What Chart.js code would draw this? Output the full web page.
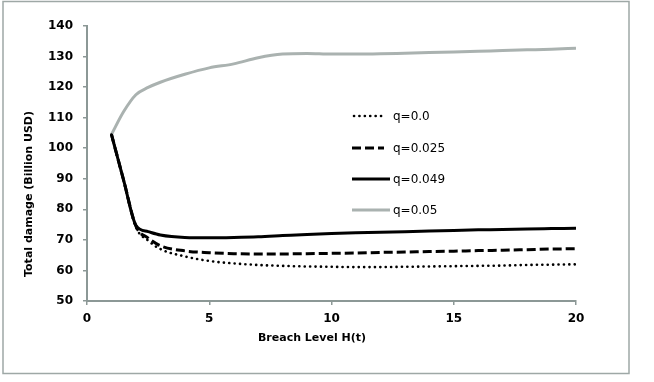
<!DOCTYPE html>
<html>
<head>
<meta charset="utf-8">
<script src="https://cdn.jsdelivr.net/npm/chart.js@4.4.1/dist/chart.umd.min.js"></script>
<style>
  html, body { margin: 0; padding: 0; background: #fff; }
  #wrap { width: 654px; height: 382px; position: relative; }
</style>
</head>
<body>
<div id="wrap"><canvas id="damageChart" width="654" height="382"></canvas></div>
<script>
// Breach level H(t)
const breachLevels = [1, 1.5, 2, 2.5, 3, 4, 5, 6, 7, 8, 9, 10, 11, 12, 13, 14, 15, 16, 17, 18, 19, 20];

// Total damage (Billion USD) for each q
const q000 = [104.5, 89.3, 74.2, 69.8, 67.0, 64.6, 63.1, 62.3, 61.8, 61.5, 61.3, 61.2, 61.1, 61.1, 61.2, 61.3, 61.4, 61.5, 61.6, 61.8, 61.9, 62.0];
const q025 = [104.5, 89.5, 74.5, 70.6, 68.1, 66.4, 65.8, 65.5, 65.4, 65.4, 65.5, 65.6, 65.7, 65.9, 66.0, 66.2, 66.3, 66.5, 66.6, 66.8, 67.0, 67.1];
const q049 = [104.5, 89.5, 74.8, 72.7, 71.6, 70.8, 70.7, 70.8, 71.0, 71.4, 71.8, 72.1, 72.3, 72.5, 72.7, 72.9, 73.1, 73.3, 73.4, 73.6, 73.7, 73.8];
const q050 = [104.5, 112.0, 117.5, 119.9, 121.6, 124.2, 126.3, 127.6, 129.6, 130.8, 131.0, 130.8, 130.8, 130.9, 131.1, 131.3, 131.5, 131.7, 132.0, 132.2, 132.4, 132.7];

const seriesLabels = ["q=0.0", "q=0.025", "q=0.049", "q=0.05"];
const xTicks = [0, 5, 10, 15, 20];
const yTicks = [50, 60, 70, 80, 90, 100, 110, 120, 130, 140];

const axisColor = "#8c9896";
const font = "DejaVu Sans, Verdana, sans-serif";

function toPoints(values) {
  return values.map((v, i) => ({ x: breachLevels[i], y: v }));
}

// background, frame, axis titles and the legend inside the plot
const decorations = {
  id: "decorations",
  beforeDraw(chart) {
    const ctx = chart.ctx;
    ctx.save();
    ctx.fillStyle = "#fff";
    ctx.fillRect(0, 0, chart.width, chart.height);
    ctx.strokeStyle = "#9ea8a6";
    ctx.lineWidth = 1.5;
    ctx.strokeRect(3, 1.5, 626, 372);
    ctx.restore();
  },
  afterDraw(chart) {
    const ctx = chart.ctx;
    ctx.save();
    ctx.fillStyle = "#000";
    ctx.font = "bold 11px " + font;
    ctx.textAlign = "center";
    ctx.textBaseline = "middle";
    ctx.fillText("Breach Level H(t)", 312, 338);

    ctx.translate(29, 194);
    ctx.rotate(-Math.PI / 2);
    ctx.fillText("Total damage (Billion USD)", 0, 0);
    ctx.restore();

    // legend
    const rows = [116, 148, 179, 210];
    chart.data.datasets.forEach((ds, i) => {
      const y = rows[i];
      ctx.save();
      ctx.strokeStyle = ds.borderColor;
      ctx.lineWidth = ds.borderWidth;
      ctx.lineCap = ds.borderCapStyle || "butt";
      ctx.setLineDash(ds.borderDash || []);
      ctx.beginPath();
      ctx.moveTo(ds.borderCapStyle === "round" ? 354 : 352, y);
      ctx.lineTo(ds.borderDash ? 384 : 390, y);
      ctx.stroke();
      ctx.restore();

      ctx.save();
      ctx.fillStyle = "#000";
      ctx.font = "12px " + font;
      ctx.textAlign = "left";
      ctx.textBaseline = "middle";
      ctx.fillText(ds.label, 393, y + 1);
      ctx.restore();
    });
  }
};

const ctx = document.getElementById("damageChart").getContext("2d");
new Chart(ctx, {
  type: "line",
  data: {
    datasets: [
      {
        label: seriesLabels[0],
        data: toPoints(q000),
        borderColor: "#000",
        borderWidth: 2.6,
        borderDash: [0.1, 5.3],
        borderCapStyle: "round",
        order: 2,
      },
      {
        label: seriesLabels[1],
        data: toPoints(q025),
        borderColor: "#000",
        borderWidth: 3,
        borderDash: [9, 4],
        order: 1,
      },
      {
        label: seriesLabels[2],
        data: toPoints(q049),
        borderColor: "#000",
        borderWidth: 3,
        order: 0,
      },
      {
        label: seriesLabels[3],
        data: toPoints(q050),
        borderColor: "#aab2b0",
        borderWidth: 3,
        order: 3,
      },
    ],
  },
  options: {
    responsive: false,
    animation: false,
    devicePixelRatio: 1,
    layout: { padding: { left: 0, top: 26, right: 78, bottom: 0 } },
    elements: {
      point: { radius: 0 },
      line: { cubicInterpolationMode: "monotone", fill: false },
    },
    plugins: {
      legend: { display: false },
      tooltip: { enabled: false },
    },
    scales: {
      x: {
        type: "linear",
        min: xTicks[0],
        max: xTicks[xTicks.length - 1],
        afterBuildTicks: (scale) => { scale.ticks = xTicks.map((v) => ({ value: v })); },
        afterFit: (scale) => { scale.height = 81; },
        border: { color: axisColor, width: 2 },
        grid: { drawOnChartArea: false, color: axisColor, lineWidth: 1.5, tickLength: 4 },
        ticks: { autoSkip: false, maxRotation: 0, color: "#000", padding: 7, font: { family: font, size: 12, weight: "bold" } },
      },
      y: {
        min: yTicks[0],
        max: yTicks[yTicks.length - 1],
        afterBuildTicks: (scale) => { scale.ticks = yTicks.map((v) => ({ value: v })); },
        afterFit: (scale) => { scale.width = 87; },
        border: { color: axisColor, width: 2 },
        grid: { drawOnChartArea: false, color: axisColor, lineWidth: 1.5, tickLength: 4 },
        ticks: { autoSkip: false, color: "#000", padding: 10, font: { family: font, size: 12, weight: "bold" } },
      },
    },
  },
  plugins: [decorations],
});
</script>
</body>
</html>
